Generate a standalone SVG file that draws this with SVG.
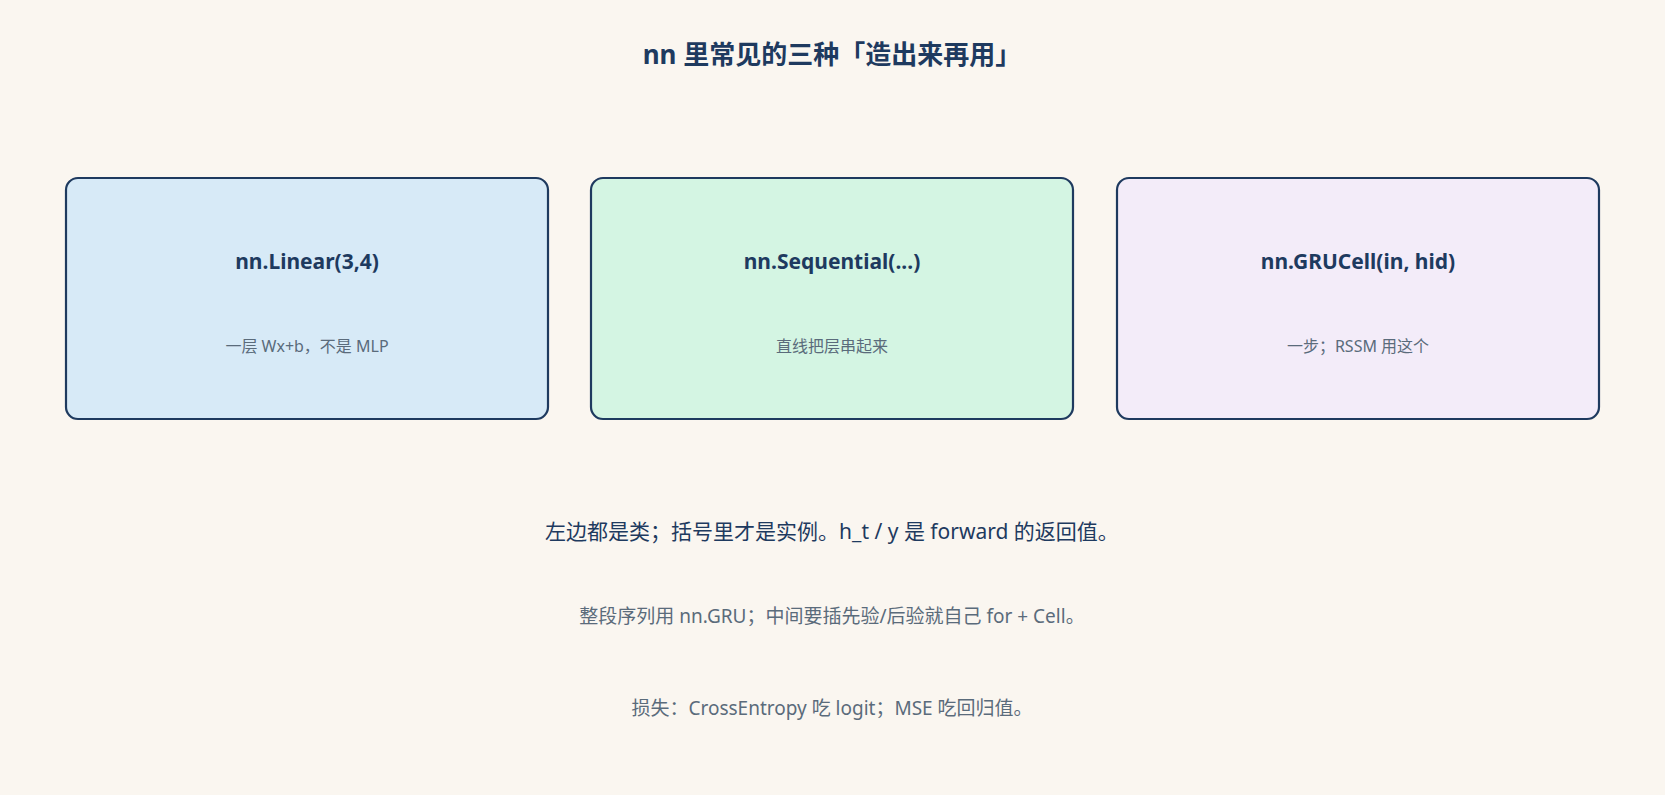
<svg xmlns="http://www.w3.org/2000/svg" width="1665" height="795" viewBox="0 0 1665 795">
<style>
text{font-family:"Noto Sans","Noto Sans CJK SC",sans-serif;text-anchor:middle}
.box{stroke:#1e3a5f;stroke-width:2.2}
.t{font-size:21px;font-weight:bold;fill:#1e3a5f}
.s{font-size:16px;fill:#5a6b7b}
.n{font-size:19px;fill:#5a6b7b}
</style>
<rect width="1665" height="795" fill="#faf6f0"/>
<text x="832" y="64" style="font-size:26px;font-weight:bold;fill:#1e3a5f">nn 里常见的三种「造出来再用」</text>
<g id="linear"><rect class="box" x="66" y="178" width="482" height="241" rx="12" fill="#d7eaf7"/>
<text class="t" x="307" y="269">nn.Linear(3,4)</text><text class="s" x="307" y="352">一层 Wx+b，不是 MLP</text></g>
<g id="sequential"><rect class="box" x="591" y="178" width="482" height="241" rx="12" fill="#d4f5e3"/>
<text class="t" x="832" y="269">nn.Sequential(...)</text><text class="s" x="832" y="352">直线把层串起来</text></g>
<g id="grucell"><rect class="box" x="1117" y="178" width="482" height="241" rx="12" fill="#f3ecf9"/>
<text class="t" x="1358" y="269">nn.GRUCell(in, hid)</text><text class="s" x="1358" y="352">一步；RSSM 用这个</text></g>
<g id="connectors"/>
<text x="832" y="539" style="font-size:21px;fill:#1e3a5f">左边都是类；括号里才是实例。h_t / y 是 forward 的返回值。</text>
<text class="n" x="832" y="623">整段序列用 nn.GRU；中间要插先验/后验就自己 for + Cell。</text>
<text class="n" x="832" y="715">损失：CrossEntropy 吃 logit；MSE 吃回归值。</text>
</svg>
